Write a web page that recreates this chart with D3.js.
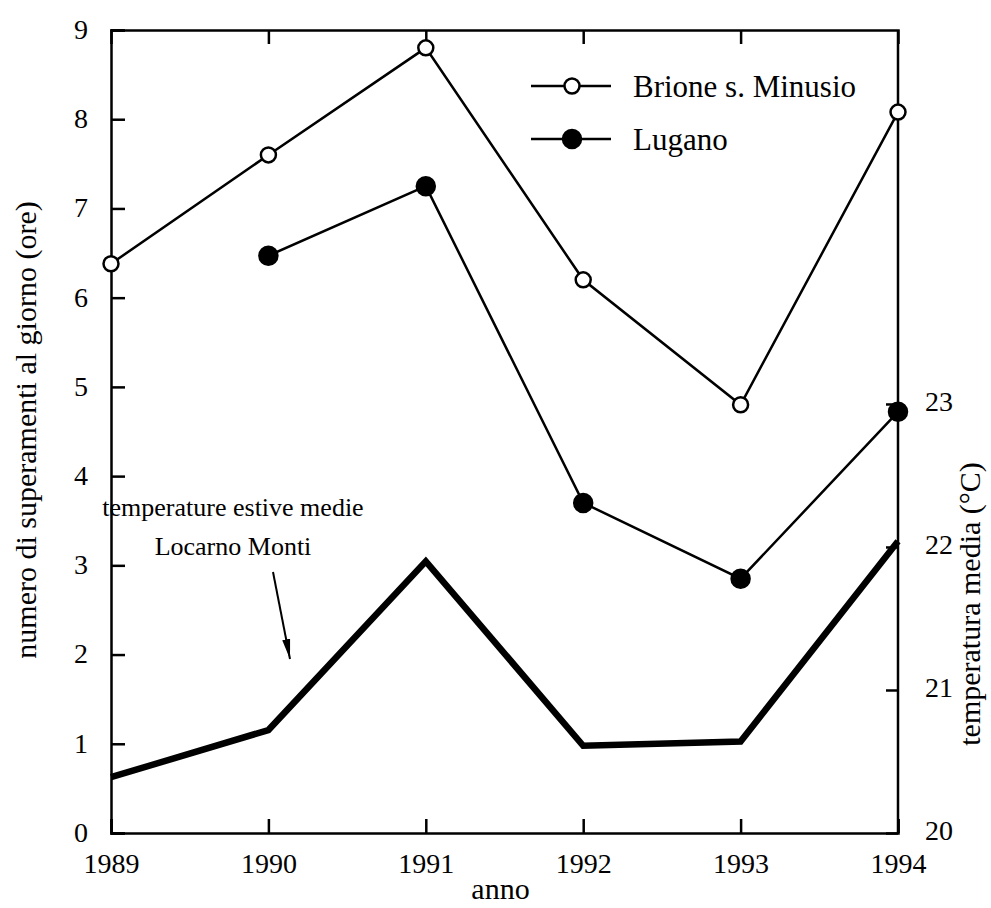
<!DOCTYPE html>
<html>
<head>
<meta charset="utf-8">
<script src="https://cdn.jsdelivr.net/npm/d3@7"></script>
<style>
  body { margin: 0; background: #fff; }
  text { font-family: "Liberation Serif", "Times New Roman", serif; fill: #000; }
</style>
</head>
<body>
<div id="chart"></div>
<script>
// data
const years = [1989, 1990, 1991, 1992, 1993, 1994];
const brione = [6.38, 7.6, 8.8, 6.2, 4.8, 8.08];
const lugano = [null, 6.47, 7.25, 3.7, 2.85, 4.72];
const tempLocarno = [20.39, 20.72, 21.9, 20.61, 20.64, 22.04];
const leftTicks = [0, 1, 2, 3, 4, 5, 6, 7, 8, 9];
const rightTicks = [20, 21, 22, 23];

const width = 991, height = 908;
const margin = { top: 30, right: 93, bottom: 75, left: 111 };
const w = width - margin.left - margin.right;
const h = height - margin.top - margin.bottom;

const svg = d3.select("#chart").append("svg")
    .attr("width", width).attr("height", height);

const g = svg.append("g")
    .attr("transform", "translate(" + margin.left + "," + margin.top + ")");

const x = d3.scaleLinear().domain([1989, 1994]).range([0, w]);
const y = d3.scaleLinear().domain([0, 9]).range([h, 0]);
const y2 = d3.scaleLinear().domain([20, 25.615]).range([h, 0]);

// axes (ticks inward)
const tickFs = "28px";
const titleFs = "30px";
const yAxisL = g.append("g").call(d3.axisLeft(y).tickValues(leftTicks).tickSize(-14).tickPadding(23));
const xAxisB = g.append("g").attr("transform", "translate(0," + h + ")")
    .call(d3.axisBottom(x).tickValues(years).tickFormat(d3.format("d")).tickSize(-14).tickPadding(25));
const xAxisT = g.append("g").call(d3.axisTop(x).tickValues(years.slice(1, 5)).tickSize(-14).tickFormat(""));
const yAxisR = g.append("g").attr("transform", "translate(" + w + ",0)")
    .call(d3.axisRight(y2).tickValues(rightTicks).tickFormat(d3.format("d")).tickSize(-12).tickPadding(27));

[yAxisL, xAxisB, xAxisT, yAxisR].forEach(a => {
    a.select(".domain").attr("stroke", "#000").attr("stroke-width", 2.5);
    a.selectAll(".tick line").attr("stroke", "#000").attr("stroke-width", 2.5);
    a.selectAll(".tick text").style("font-size", tickFs).attr("fill", "#000");
});
yAxisL.selectAll(".tick text").attr("dy", "0.3em");
yAxisR.selectAll(".tick text").attr("dy", "0.22em");
xAxisB.selectAll(".tick text").attr("dy", "0.55em");
// right axis: close the frame from top to bottom
yAxisR.select(".domain").attr("d", "M0,0V" + h);

// axis titles
g.append("text").attr("x", w / 2 - 4).attr("y", h + 66)
    .attr("text-anchor", "middle").style("font-size", titleFs).text("anno");
svg.append("text")
    .attr("transform", "translate(36," + 430 + ") rotate(-90)")
    .attr("text-anchor", "middle").style("font-size", titleFs)
    .text("numero di superamenti al giorno (ore)");
svg.append("text")
    .attr("transform", "translate(980," + 604 + ") rotate(-90)")
    .attr("text-anchor", "middle").style("font-size", titleFs)
    .text("temperatura media (°C)");

// temperature line (thick)
g.append("path")
    .datum(years.map((yr, i) => [yr, tempLocarno[i]]))
    .attr("fill", "none").attr("stroke", "#000").attr("stroke-width", 6.5)
    .attr("d", d3.line().x(d => x(d[0])).y(d => y2(d[1])));

// series lines
function series(values, filled) {
    const pts = years.map((yr, i) => [yr, values[i]]).filter(d => d[1] != null);
    g.append("path").datum(pts)
        .attr("fill", "none").attr("stroke", "#000").attr("stroke-width", 2.5)
        .attr("d", d3.line().x(d => x(d[0])).y(d => y(d[1])));
    g.selectAll(null).data(pts).join("circle")
        .attr("cx", d => x(d[0])).attr("cy", d => y(d[1]))
        .attr("r", filled ? 9 : 7.5)
        .attr("fill", filled ? "#000" : "#fff")
        .attr("stroke", "#000").attr("stroke-width", 2.5);
}
series(brione, false);
series(lugano, true);

// legend
const legendItems = [["Brione s. Minusio", false], ["Lugano", true]];
const lg = svg.append("g").attr("transform", "translate(531,86)");
legendItems.forEach((d, i) => {
    const row = lg.append("g").attr("transform", "translate(0," + i * 53 + ")");
    row.append("line").attr("x1", 0).attr("x2", 80).attr("y1", 0).attr("y2", 0)
        .attr("stroke", "#000").attr("stroke-width", 2.5);
    row.append("circle").attr("cx", 41).attr("cy", 0).attr("r", d[1] ? 9 : 7.5)
        .attr("fill", d[1] ? "#000" : "#fff").attr("stroke", "#000").attr("stroke-width", 2.5);
    row.append("text").attr("x", 102).attr("y", 11).style("font-size", "31px").text(d[0]);
});

// annotation
svg.append("text").attr("x", 233).attr("y", 516).attr("text-anchor", "middle")
    .style("font-size", "26px").text("temperature estive medie");
svg.append("text").attr("x", 233).attr("y", 555).attr("text-anchor", "middle")
    .style("font-size", "26px").text("Locarno Monti");
svg.append("defs").append("marker")
    .attr("id", "arrow").attr("viewBox", "0 0 20 10").attr("refX", 20).attr("refY", 5)
    .attr("markerWidth", 20).attr("markerHeight", 10).attr("markerUnits", "userSpaceOnUse")
    .attr("orient", "auto")
    .append("path").attr("d", "M0,1L20,5L0,9Z").attr("fill", "#000");
svg.append("line").attr("x1", 273).attr("y1", 572).attr("x2", 290).attr("y2", 659)
    .attr("stroke", "#000").attr("stroke-width", 2).attr("marker-end", "url(#arrow)");
</script>
</body>
</html>
